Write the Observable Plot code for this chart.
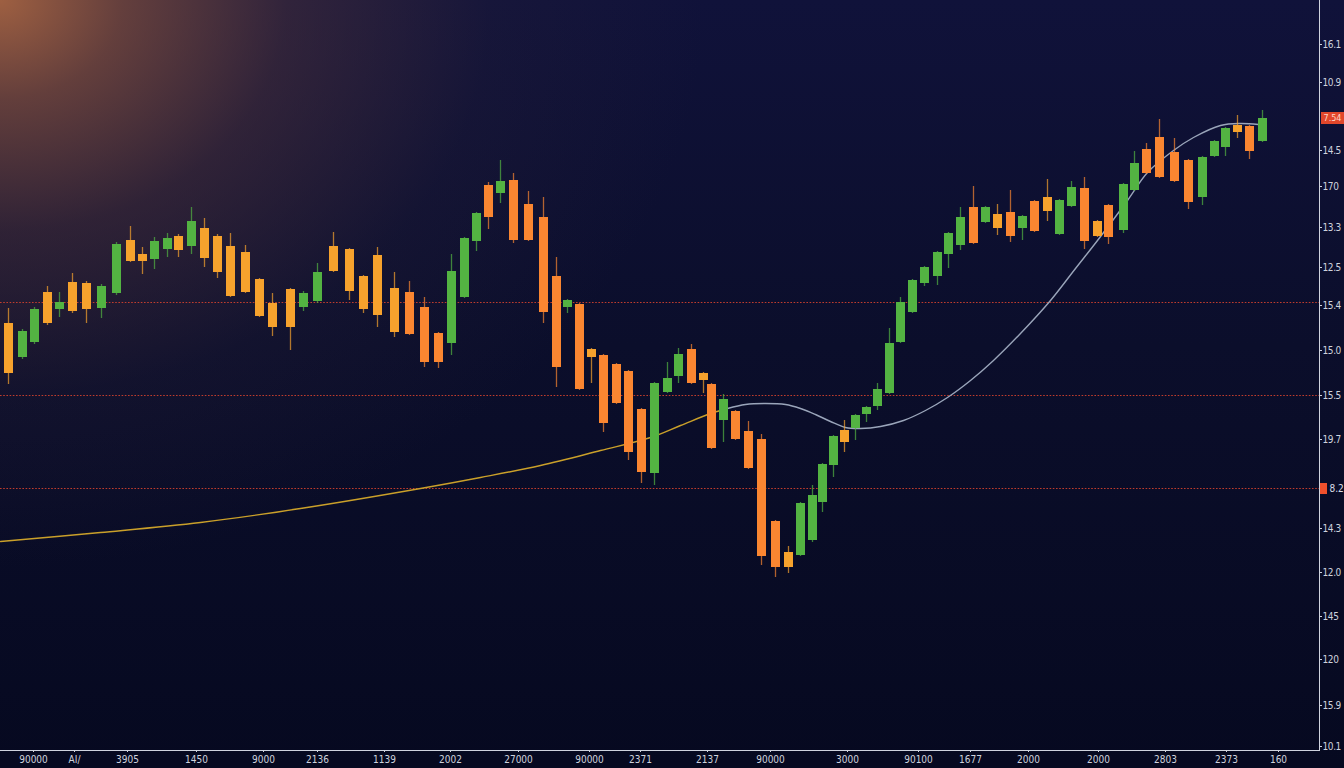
<!DOCTYPE html>
<html>
<head>
<meta charset="utf-8">
<script src="https://cdn.jsdelivr.net/npm/d3@7"></script>
<script src="https://cdn.jsdelivr.net/npm/@observablehq/plot@0.6"></script>
<style>
html, body { margin: 0; padding: 0; width: 1344px; height: 768px; overflow: hidden; }
body {
  background:
    radial-gradient(ellipse 820px 660px at 0px 0px, rgba(170,102,66,0.92) 0%, rgba(132,80,62,0.72) 15%, rgba(88,56,60,0.46) 35%, rgba(46,36,58,0.22) 60%, rgba(20,20,50,0) 86%),
    linear-gradient(180deg, #10123a 0%, #0b0e2b 45%, #060920 100%);
}
#chart svg { display: block; }
#chart svg [aria-label^="y-axis"] text { letter-spacing: -0.4px; }
</style>
</head>
<body>
<div id="chart"></div>
<script>
// ---- candle data (session position, OHLC in price units) ----
const t = [8,22,34,47,59,72,86,101,116,130,142,154,167,178,191,204,217,230,245,259,272,290,303,317,333,349,363,377,394,409,424,438,451,464,476,488,500,513,528,543,556,567,579,591,603,616,628,641,654,667,678,691,703,711,723,735,748,761,775,788,800,812,822,833,844,855,866,877,889,900,912,924,937,948,960,973,985,997,1010,1022,1034,1047,1059,1071,1084,1097,1108,1123,1134,1146,1159,1174,1188,1202,1214,1225,1237,1249,1262];
const open = [427,393,408,458,441,468,467,442,457,510,496,491,501,514,504,522,514,504,498,471,447,461,443,449,504,501,474,495,462,458,443,417,407,453,509,565,557,570,546,533,474,443,446,401,395,386,379,341,277,358,374,401,377,366,330,339,319,311,229,198,195,210,248,285,320,322,336,344,357,408,438,467,474,496,505,543,528,536,538,522,549,553,516,544,562,529,545,520,560,601,613,598,590,553,594,603,625,624,609];
const high = [442,421,443,464,458,477,469,466,508,524,503,513,517,516,543,532,516,517,505,472,457,462,459,487,518,502,475,503,478,469,453,418,496,513,538,568,590,577,559,553,493,451,447,402,396,387,380,342,368,388,402,406,378,367,356,340,329,316,230,204,248,265,287,315,330,336,344,367,422,453,471,484,499,518,543,564,544,546,560,535,550,571,551,569,573,530,546,567,599,607,631,612,591,594,610,623,635,625,640];
const low = [366,391,406,425,433,437,427,432,455,488,476,481,493,493,496,483,472,453,457,433,414,400,439,447,478,450,437,423,413,415,383,382,395,452,499,521,547,507,509,427,363,437,360,367,318,346,290,267,265,357,367,366,357,301,308,310,281,185,173,177,194,208,238,273,298,310,328,340,356,407,437,464,465,482,500,506,527,515,508,510,518,529,515,543,501,513,506,517,559,576,572,568,541,545,593,594,612,591,608];
const close = [377,419,441,427,448,439,441,464,506,489,489,509,512,500,529,492,478,454,458,434,423,423,457,478,479,459,441,435,418,416,388,388,479,512,537,533,569,510,510,438,383,450,361,393,327,347,298,278,367,372,396,367,370,302,351,311,282,194,183,183,247,255,286,314,308,335,343,361,407,448,470,483,498,517,533,507,543,522,514,534,519,539,550,563,509,514,513,566,587,577,573,569,548,593,609,622,618,599,632];

// ---- moving average curve ----
const maYellowT = [0,100,200,300,420,480,540,600,650,680,710,727];
const maYellowV = [209,218,228,242,262,273,285,300,313,325,337,342];
const maGrayT = [727,745,765,785,800,815,830,845,860,880,903,925,947,970,993,1020,1050,1075,1097,1127,1147,1173,1193,1220,1240,1258];
const maGrayV = [342,346,347,346,342,336,329,323,322,324,330,340,353,370,390,417,450,482,510,550,578,600,613,625,627,626];

// ---- reference levels ----
const levels = [448, 355, 262];

// ---- axis ticks ----
const xTickPos = [33,74,127,196,263,317,384,450,518,589,640,707,770,847,918,970,1028,1098,1165,1226,1278];
const xTickLabels = ["90000","AI/","3905","1450","9000","2136","1139","2002","27000","90000","2371","2137","90000","3000","90100","1677","2000","2000","2803","2373","160"];
const yTickPos = [706,668,600,564,523,483,445,400,355,311,222,178,134,91,45,4];
const yTickLabels = ["16.1","10.9","14.5","170","13.3","12.5","15.4","15.0","15.5","19.7","14.3","12.0","145","120","15.9","10.1"];
const markerPrices = [632, 262];
const markerLabels = ["7.54", "8.2"];

const X_MAX = 1319, Y_MIN = 0, Y_MAX = 750;

const candles = t.map((x, i) => ({t: x, open: open[i], high: high[i], low: low[i], close: close[i]}));
const maYellow = maYellowT.map((x, i) => ({t: x, v: maYellowV[i]}));
const maGray = maGrayT.map((x, i) => ({t: x, v: maGrayV[i]}));
const markers = markerPrices.map((p, i) => ({p, label: markerLabels[i], i}));

const GREEN = "#53b342", AMBER = "#f6a22d", ORANGE = "#fa8631";
const candleColor = d => d.close >= d.open ? GREEN
  : (d.t < 400 || Math.abs(d.open - d.close) <= 15 ? AMBER : ORANGE);

const xLab = new Map(xTickPos.map((p, i) => [p, xTickLabels[i]]));
const yLab = new Map(yTickPos.map((p, i) => [p, yTickLabels[i]]));

const chart = Plot.plot({
  width: 1344,
  height: 768,
  marginLeft: 0,
  marginRight: 25,
  marginTop: 0,
  marginBottom: 18,
  style: {
    background: "transparent",
    color: "#cfd3de",
    fontFamily: "'DejaVu Sans Condensed', 'Liberation Sans Narrow', Roboto, sans-serif",
    fontSize: "10px"
  },
  color: {type: "identity"},
  x: {
    domain: [0, X_MAX],
    ticks: xTickPos,
    tickFormat: d => xLab.get(d),
    tickSize: 2,
    tickPadding: 3,
    line: true,
    label: null
  },
  y: {
    domain: [Y_MIN, Y_MAX],
    axis: "right",
    ticks: yTickPos,
    tickFormat: d => yLab.get(d),
    tickSize: 2,
    tickPadding: 1,
    line: true,
    label: null
  },
  marks: [
    Plot.ruleY(levels, {x1: 0, x2: X_MAX, stroke: "#d4412e", strokeWidth: 1.2, strokeDasharray: "1.6,1.6", strokeOpacity: 0.9}),
    Plot.line(maYellow, {x: "t", y: "v", stroke: "#caa02a", strokeWidth: 1.4, curve: "catmull-rom"}),
    Plot.line(maGray, {x: "t", y: "v", stroke: "#9aa5ba", strokeWidth: 1.4, curve: "catmull-rom"}),
    Plot.ruleX(candles, {x: "t", y1: "low", y2: "high", stroke: candleColor, strokeWidth: 1.3, strokeOpacity: 0.7}),
    Plot.ruleX(candles, {x: "t", y1: "open", y2: "close", stroke: candleColor, strokeWidth: 9}),
    Plot.rect(markers.filter(d => d.i === 0), {x1: X_MAX + 2, x2: X_MAX + 25, y1: d => d.p - 6, y2: d => d.p + 6, fill: "#e2472b"}),
    Plot.rect(markers.filter(d => d.i === 1), {x1: X_MAX + 1, x2: X_MAX + 8, y1: d => d.p - 6, y2: d => d.p + 5, fill: "#f0502c"}),
    Plot.text(markers.filter(d => d.i === 0), {x: X_MAX + 4, y: "p", text: "label", textAnchor: "start", fill: "#ffd6c8", fontSize: 9}),
    Plot.text(markers.filter(d => d.i === 1), {x: X_MAX + 10, y: "p", text: "label", textAnchor: "start", fill: "#d8dce6", fontSize: 10})
  ]
});

document.getElementById("chart").appendChild(chart);
</script>
</body>
</html>
